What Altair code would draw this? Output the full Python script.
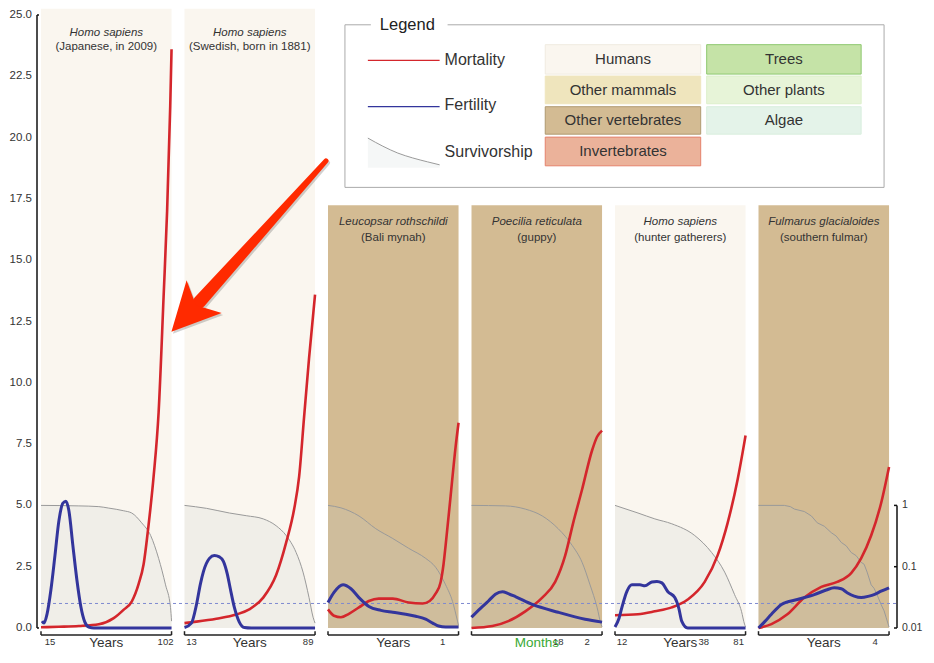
import math
import altair as alt
import pandas as pd

# ---------------- data ----------------
SPECIES = ["Homo sapiens", "Homo sapiens", "Leucopsar rothschildi",
           "Poecilia reticulata", "Homo sapiens", "Fulmarus glacialoides"]
POPULATION = ["(Japanese, in 2009)", "(Swedish, born in 1881)", "(Bali mynah)",
              "(guppy)", "(hunter gatherers)", "(southern fulmar)"]
GROUP = ["Humans", "Humans", "Other vertebrates", "Other vertebrates", "Humans", "Other vertebrates"]
AGE_UNIT = ["Years", "Years", "Years", "Months", "Years", "Years"]
AGE_TICKS = [["15", "102"], ["13", "89"], ["1"], ["18", "2"], ["12", "38", "81"], ["4"]]
AGE_TICK_AT = [[0.069, 0.954], [0.053, 0.947], [0.878], [0.664, 0.885], [0.053, 0.68, 0.947], [0.893]]

# Japanese 2009
JP_MORT_T = [0.0, 0.137, 0.29, 0.443, 0.557, 0.634, 0.695, 0.748, 0.786, 0.824, 0.863, 0.901, 0.939, 0.966, 0.99, 1.0]
JP_MORT = [0.03, 0.05, 0.08, 0.15, 0.4, 0.75, 1.08, 1.8, 2.6, 4.2, 6.2, 8.8, 13.5, 17.0, 21.3, 23.6]
JP_FERT_T = [0.008, 0.023, 0.046, 0.076, 0.107, 0.137, 0.168, 0.191, 0.214, 0.244, 0.275, 0.305, 0.336, 0.366, 0.405, 1.0]
JP_FERT = [0.28, 0.2, 0.56, 1.56, 2.96, 4.37, 5.09, 5.17, 4.77, 3.37, 1.96, 0.88, 0.24, 0.04, 0.0, 0.0]
JP_SURV_T = [0.0, 0.29, 0.443, 0.519, 0.634, 0.695, 0.771, 0.84, 0.901, 0.954, 0.992, 1.0]
JP_SURV = [5.0, 4.98, 4.95, 4.89, 4.78, 4.69, 4.29, 3.77, 2.84, 1.76, 0.84, 0.28]

# Swedish born 1881
SE_MORT_T = [0.0, 0.092, 0.244, 0.397, 0.496, 0.603, 0.702, 0.779, 0.84, 0.878, 0.916, 0.954, 1.0]
SE_MORT = [0.2, 0.26, 0.38, 0.55, 0.76, 1.24, 2.16, 3.49, 4.85, 6.17, 8.6, 11.0, 13.6]
SE_FERT_T = [0.0, 0.053, 0.092, 0.122, 0.145, 0.191, 0.229, 0.267, 0.298, 0.328, 0.351, 0.382, 0.42, 0.458, 0.511, 1.0]
SE_FERT = [0.02, 0.2, 0.96, 1.8, 2.3, 2.84, 2.96, 2.9, 2.72, 2.2, 1.6, 0.84, 0.24, 0.02, 0.0, 0.0]
SE_SURV_T = [0.0, 0.168, 0.344, 0.473, 0.603, 0.702, 0.779, 0.855, 0.908, 0.954, 0.985, 1.0]
SE_SURV = [5.0, 4.88, 4.69, 4.58, 4.45, 4.17, 3.77, 3.08, 2.28, 1.24, 0.44, 0.2]

# Bali mynah
BM_MORT_T = [0.0, 0.046, 0.099, 0.16, 0.237, 0.313, 0.389, 0.496, 0.618, 0.725, 0.779, 0.824, 0.863, 0.885, 0.901, 0.939, 0.977, 1.0]
BM_MORT = [0.76, 0.5, 0.44, 0.58, 0.84, 1.1, 1.2, 1.2, 1.04, 1.0, 1.1, 1.4, 1.88, 2.6, 3.37, 5.37, 7.37, 8.37]
BM_FERT_T = [0.0, 0.046, 0.115, 0.176, 0.237, 0.313, 0.405, 0.496, 0.595, 0.672, 0.748, 0.802, 0.847, 0.901, 1.0]
BM_FERT = [1.04, 1.45, 1.76, 1.6, 1.24, 0.88, 0.72, 0.64, 0.56, 0.48, 0.36, 0.2, 0.08, 0.04, 0.04]
BM_SURV_T = [0.0, 0.099, 0.237, 0.366, 0.496, 0.618, 0.748, 0.824, 0.901, 0.954, 0.992, 1.0]
BM_SURV = [5.0, 4.9, 4.57, 4.05, 3.65, 3.25, 2.84, 2.48, 1.76, 1.08, 0.28, 0.1]

# Guppy
GU_MORT_T = [0.0, 0.16, 0.282, 0.412, 0.542, 0.641, 0.718, 0.779, 0.847, 0.924, 0.962, 1.0]
GU_MORT = [0.0, 0.08, 0.28, 0.68, 1.24, 1.88, 2.96, 4.29, 5.65, 7.25, 7.8, 8.05]
GU_FERT_T = [0.0, 0.069, 0.13, 0.183, 0.237, 0.282, 0.336, 0.466, 0.664, 0.87, 1.0]
GU_FERT = [0.44, 0.8, 1.1, 1.38, 1.48, 1.4, 1.28, 0.96, 0.64, 0.36, 0.24]
GU_SURV_T = [0.0, 0.26, 0.412, 0.542, 0.664, 0.771, 0.847, 0.908, 0.962, 0.992, 1.0]
GU_SURV = [5.0, 4.98, 4.85, 4.57, 4.05, 3.37, 2.68, 1.76, 0.84, 0.16, 0.05]

# Hunter gatherers
HG_MORT_T = [0.0, 0.176, 0.305, 0.435, 0.557, 0.687, 0.786, 0.863, 0.939, 0.992, 1.0]
HG_MORT = [0.52, 0.56, 0.68, 0.84, 1.16, 1.88, 2.96, 4.29, 6.05, 7.6, 7.85]
HG_FERT_T = [0.0, 0.031, 0.053, 0.092, 0.13, 0.191, 0.229, 0.282, 0.321, 0.359, 0.405, 0.458, 0.489, 0.511, 0.557, 1.0]
HG_FERT = [0.04, 0.4, 0.84, 1.5, 1.76, 1.76, 1.72, 1.88, 1.9, 1.84, 1.48, 1.24, 0.8, 0.28, 0.0, 0.0]
HG_SURV_T = [0.0, 0.176, 0.305, 0.435, 0.611, 0.74, 0.84, 0.916, 0.969, 0.992, 1.0]
HG_SURV = [5.0, 4.69, 4.45, 4.25, 3.77, 3.08, 2.28, 1.36, 0.68, 0.16, 0.05]

# Southern fulmar
SF_MORT_T = [0.0, 0.099, 0.221, 0.351, 0.481, 0.603, 0.71, 0.786, 0.863, 0.939, 1.0]
SF_MORT = [0.0, 0.16, 0.56, 1.24, 1.68, 1.88, 2.24, 2.84, 3.77, 5.09, 6.57]
SF_FERT_T = [0.0, 0.046, 0.099, 0.176, 0.298, 0.427, 0.519, 0.58, 0.634, 0.679, 0.733, 0.786, 0.847, 0.885, 0.939, 1.0]
SF_FERT = [0.0, 0.25, 0.56, 0.96, 1.16, 1.36, 1.55, 1.64, 1.6, 1.44, 1.3, 1.24, 1.3, 1.36, 1.5, 1.64]
SF_SURV_T = [0.0, 0.198, 0.244, 0.275, 0.351, 0.405, 0.45, 0.504, 0.557, 0.595, 0.634, 0.672, 0.71, 0.748,
             0.786, 0.809, 0.832, 0.863, 0.885, 0.908, 0.939, 0.962, 0.977, 1.0]
SF_SURV = [5.0, 5.0, 4.95, 4.85, 4.75, 4.57, 4.29, 4.15, 3.89, 3.75, 3.49, 3.35, 3.08, 2.95,
           2.68, 2.6, 2.28, 1.76, 1.62, 1.36, 0.96, 0.7, 0.44, 0.04]

# right-hand survivorship axis (log scale 0.01 .. 1 drawn over 0 .. 5)
SURV_TICKS = [1, 0.1, 0.01]
SURV_TICK_LABELS = ["1", "0.1", "0.01"]
LEFT_TICKS = [0, 2.5, 5, 7.5, 10, 12.5, 15, 17.5, 20, 22.5, 25]

LEGEND_GROUPS = ["Humans", "Other mammals", "Other vertebrates", "Invertebrates",
                 "Trees", "Other plants", "Algae"]
LEGEND_LINES = ["Mortality", "Fertility", "Survivorship"]

# ---------------- styles / layout ----------------
GROUP_FILL = {"Humans": "#faf6ef", "Other mammals": "#efe5bd", "Other vertebrates": "#d3bb93",
              "Invertebrates": "#ebb29a", "Trees": "#c5e3a7", "Other plants": "#e7f4d8", "Algae": "#e4f3e9"}
GROUP_STROKE = {"Humans": "#f0ebe0", "Other mammals": "#efe5bd", "Other vertebrates": "#b09a70",
                "Invertebrates": "#e4826c", "Trees": "#8ec86f", "Other plants": "#dcefcb", "Algae": "#d9eede"}
MORT_C = "#d4262c"
FERT_C = "#33359c"
SURV_C = "#9a9a9a"
SURV_FILL = "#bec8c8"
FONT = "Liberation Sans"

PW = 131 / 144              # panel width (panel pitch = 1)
TOP = [25.25, 25.25, 17.24, 17.24, 17.24, 17.24]
AX_Y, AX_TICK, LAB_Y = -0.285, -0.13, -0.59
PXV = 24.52                 # pixels per value unit (for small offsets)
PXU = 143.5                 # pixels per panel pitch

W, H = 918, 641
XS = alt.Scale(domain=[-33 / PXU, 885 / PXU], nice=False, zero=False)
YS = alt.Scale(domain=[-0.8564, 25.2855], nice=False, zero=False)


def ux(px):
    """layout helper: reference-pixel column -> panel units"""
    return (px - 42) / 144


def X(f="u"):
    return alt.X(f"{f}:Q", scale=XS, axis=None)


def Y(f="v"):
    return alt.Y(f"{f}:Q", scale=YS, axis=None)


def curve(series):
    rows = []
    for p, (ts, vs) in enumerate(series):
        for t, v in zip(ts, vs):
            rows.append({"panel": p, "u": p + t * PW, "v": v})
    return pd.DataFrame(rows)


mort = curve([(JP_MORT_T, JP_MORT), (SE_MORT_T, SE_MORT), (BM_MORT_T, BM_MORT),
              (GU_MORT_T, GU_MORT), (HG_MORT_T, HG_MORT), (SF_MORT_T, SF_MORT)])
fert = curve([(JP_FERT_T, JP_FERT), (SE_FERT_T, SE_FERT), (BM_FERT_T, BM_FERT),
              (GU_FERT_T, GU_FERT), (HG_FERT_T, HG_FERT), (SF_FERT_T, SF_FERT)])
surv_all = curve([(JP_SURV_T, JP_SURV), (SE_SURV_T, SE_SURV), (BM_SURV_T, BM_SURV),
                  (GU_SURV_T, GU_SURV), (HG_SURV_T, HG_SURV), (SF_SURV_T, SF_SURV)])
surv_smooth = surv_all[surv_all.panel < 5]
surv_step = surv_all[surv_all.panel == 5]

layers = []

# panel backgrounds
bg = pd.DataFrame({"u": [p for p in range(6)], "u2": [p + PW for p in range(6)],
                   "v": [0.0] * 6, "v2": TOP, "fill": [GROUP_FILL[g] for g in GROUP]})
layers.append(alt.Chart(bg).mark_rect().encode(
    x=X(), x2="u2:Q", y=Y(), y2="v2:Q", color=alt.Color("fill:N", scale=None)))

# survivorship (area + line)
for d, interp in [(surv_smooth, "monotone"), (surv_step, "linear")]:
    layers.append(alt.Chart(d).mark_area(interpolate=interp, color=SURV_FILL, opacity=0.17).encode(
        x=X(), y=Y(), y2=alt.datum(0), detail="panel:N"))
    layers.append(alt.Chart(d).mark_line(interpolate=interp, color=SURV_C, strokeWidth=1).encode(
        x=X(), y=Y(), detail="panel:N"))

# dashed reference line
dash = pd.DataFrame({"u": [0.0], "u2": [ux(900)], "v": [1.0]})
layers.append(alt.Chart(dash).mark_rule(color="#7f8ad0", strokeWidth=1, strokeDash=[3, 3]).encode(
    x=X(), x2="u2:Q", y=Y()))

# mortality and fertility
layers.append(alt.Chart(mort).mark_line(interpolate="monotone", color=MORT_C, strokeWidth=2.6).encode(
    x=X(), y=Y(), detail="panel:N"))
layers.append(alt.Chart(fert).mark_line(interpolate="monotone", color=FERT_C, strokeWidth=3).encode(
    x=X(), y=Y(), detail="panel:N"))

# panel titles
t1 = pd.DataFrame({"u": [p + PW / 2 for p in range(6)],
                   "v": [TOP[p] - (1.0 if TOP[p] > 20 else 0.68) for p in range(6)],
                   "txt": SPECIES})
t2 = pd.DataFrame({"u": [p + PW / 2 for p in range(6)],
                   "v": [TOP[p] - (1.57 if TOP[p] > 20 else 1.32) for p in range(6)],
                   "txt": POPULATION})
layers.append(alt.Chart(t1).mark_text(font=FONT, fontSize=11.5, fontStyle="italic", color="#333",
                                      baseline="middle").encode(x=X(), y=Y(), text="txt:N"))
layers.append(alt.Chart(t2).mark_text(font=FONT, fontSize=11.5, color="#333",
                                      baseline="middle").encode(x=X(), y=Y(), text="txt:N"))

# bottom age axes (brackets)
br = pd.DataFrame({"u": [p for p in range(6)], "u2": [p + PW for p in range(6)], "v": [AX_Y] * 6})
layers.append(alt.Chart(br).mark_rule(color="#222", strokeWidth=1.5).encode(x=X(), x2="u2:Q", y=Y()))
ends = pd.DataFrame({"u": [p + e * PW for p in range(6) for e in (0, 1)]})
ends["v"], ends["v2"] = AX_Y, AX_TICK
layers.append(alt.Chart(ends).mark_rule(color="#222", strokeWidth=1.5).encode(x=X(), y=Y(), y2="v2:Q"))
tl = pd.DataFrame([{"u": p + a * PW, "v": LAB_Y, "txt": s}
                   for p in range(6) for s, a in zip(AGE_TICKS[p], AGE_TICK_AT[p])])
layers.append(alt.Chart(tl).mark_text(font=FONT, fontSize=9.5, color="#333", baseline="middle").encode(
    x=X(), y=Y(), text="txt:N"))
ut = pd.DataFrame({"u": [p + PW / 2 for p in range(6)], "v": [LAB_Y - 0.02] * 6, "txt": AGE_UNIT,
                   "c": ["#3aa935" if a == "Months" else "#333" for a in AGE_UNIT]})
layers.append(alt.Chart(ut).mark_text(font=FONT, fontSize=13.5, baseline="middle").encode(
    x=X(), y=Y(), text="txt:N", color=alt.Color("c:N", scale=None)))

# left axis: bracket + labels
lx, lx2 = -4 / PXU, -2 / PXU
la = pd.DataFrame({"u": [lx], "v": [0.0], "v2": [25.0]})
layers.append(alt.Chart(la).mark_rule(color="#111", strokeWidth=1.5).encode(x=X(), y=Y(), y2="v2:Q"))
ls = pd.DataFrame({"u": [lx, lx], "u2": [lx2, lx2], "v": [0.0, 25.0]})
layers.append(alt.Chart(ls).mark_rule(color="#111", strokeWidth=1.5).encode(x=X(), x2="u2:Q", y=Y()))
lab = pd.DataFrame({"v": LEFT_TICKS, "u": [-9 / PXU] * len(LEFT_TICKS),
                    "txt": [f"{t:.1f}" for t in LEFT_TICKS]})
layers.append(alt.Chart(lab).mark_text(font=FONT, fontSize=11.5, color="#333", align="right",
                                       baseline="middle").encode(x=X(), y=Y(), text="txt:N"))

# right survivorship axis (log)
rx, rx2, rxl = 856 / PXU, 853 / PXU, 861 / PXU
ra = pd.DataFrame({"u": [rx], "v": [0.0], "v2": [5.0]})
layers.append(alt.Chart(ra).mark_rule(color="#111", strokeWidth=1.5).encode(x=X(), y=Y(), y2="v2:Q"))
rt = pd.DataFrame({"p": SURV_TICKS, "txt": SURV_TICK_LABELS})
base_rt = alt.Chart(rt).transform_calculate(
    v="5 * (log(datum.p) / LN10 + 2) / 2", u=str(rx), u2=str(rx2), ul=str(rxl))
layers.append(base_rt.mark_rule(color="#111", strokeWidth=1.5).encode(x=X(), x2="u2:Q", y=Y()))
layers.append(base_rt.mark_text(font=FONT, fontSize=10.5, color="#333", align="left", baseline="middle").encode(
    x=X("ul"), y=Y(), text="txt:N"))

# ---------------- legend ----------------
gx0, gx1 = ux(373), ux(450)
LX0, LX1 = ux(347), ux(888)
LY0, LY1 = 17.97, 24.6
frame_h = pd.DataFrame({"u": [LX0, gx1, LX0], "u2": [gx0, LX1, LX1], "v": [LY1, LY1, LY0]})
layers.append(alt.Chart(frame_h).mark_rule(color="#aaa", strokeWidth=1).encode(x=X(), x2="u2:Q", y=Y()))
frame_v = pd.DataFrame({"u": [LX0, LX1], "v": [LY0, LY0], "v2": [LY1, LY1]})
layers.append(alt.Chart(frame_v).mark_rule(color="#aaa", strokeWidth=1).encode(x=X(), y=Y(), y2="v2:Q"))
lt = pd.DataFrame({"u": [ux(382)], "v": [LY1], "txt": ["Legend"]})
layers.append(alt.Chart(lt).mark_text(font=FONT, fontSize=16.5, color="#222", align="left",
                                      baseline="middle").encode(x=X(), y=Y(), text="txt:N"))

sx0, sx1 = ux(370), ux(442)
samp = pd.DataFrame({"u": [sx0, sx0], "u2": [sx1, sx1], "v": [23.15, 21.26], "c": [MORT_C, FERT_C]})
layers.append(alt.Chart(samp).mark_rule(strokeWidth=1.3).encode(
    x=X(), x2="u2:Q", y=Y(), color=alt.Color("c:N", scale=None)))
sv = pd.DataFrame({"u": [ux(x) for x in (370, 385, 400, 415, 430, 442)],
                   "v": [19.98, 19.65, 19.37, 19.17, 19.01, 18.89]})
layers.append(alt.Chart(sv).mark_area(interpolate="monotone", color=SURV_FILL, opacity=0.15).encode(
    x=X(), y=Y(), y2=alt.datum(18.77)))
layers.append(alt.Chart(sv).mark_line(interpolate="monotone", color=SURV_C, strokeWidth=1).encode(x=X(), y=Y()))
ll = pd.DataFrame({"u": [ux(447)] * 3, "v": [23.17, 21.34, 19.41], "txt": LEGEND_LINES})
layers.append(alt.Chart(ll).mark_text(font=FONT, fontSize=16, color="#333", align="left",
                                      baseline="middle").encode(x=X(), y=Y(), text="txt:N"))

cols = [(ux(548), ux(704)), (ux(710), ux(865))]
rows = [(23.79, 22.59), (22.51, 21.38), (21.26, 20.14), (20.02, 18.85)]
slots = [(0, 0), (0, 1), (0, 2), (0, 3), (1, 0), (1, 1), (1, 2)]
boxes = pd.DataFrame([{"u": cols[c][0], "u2": cols[c][1], "v": rows[r][1], "v2": rows[r][0],
                       "um": (cols[c][0] + cols[c][1]) / 2, "vm": (rows[r][0] + rows[r][1]) / 2,
                       "txt": g, "fill": GROUP_FILL[g], "stroke": GROUP_STROKE[g]}
                      for g, (c, r) in zip(LEGEND_GROUPS, slots)])
layers.append(alt.Chart(boxes).mark_rect(strokeWidth=1).encode(
    x=X(), x2="u2:Q", y=Y(), y2="v2:Q", color=alt.Color("fill:N", scale=None),
    stroke=alt.Stroke("stroke:N", scale=None)))
layers.append(alt.Chart(boxes).mark_text(font=FONT, fontSize=15, color="#333", baseline="middle").encode(
    x=X("um"), y=Y("vm"), text="txt:N"))

# ---------------- arrow ----------------
ARROW_C = "#ff2a00"
HEAD_PATH = "M0,-1L1,1L0,0.5L-1,1Z"
for dx, dv, col, op in [(1.5 / PXU, -2 / PXV, "#000", 0.18), (0, 0, ARROW_C, 1.0)]:
    shaft = pd.DataFrame({"u": [ux(328) + dx, ux(201) + dx],
                          "v": [19.05 + dv, 13.3 + dv], "w": [5, 13], "o": [0, 1]})
    layers.append(alt.Chart(shaft).mark_trail(color=col, opacity=op).encode(
        x=X(), y=Y(), size=alt.Size("w:Q", scale=None, legend=None), order="o:Q"))
    head = pd.DataFrame({"u": [ux(189.3) + dx], "v": [12.8 + dv]})
    layers.append(alt.Chart(head).mark_point(shape=HEAD_PATH, filled=True, size=2304, angle=223,
                                             color=col, opacity=op, strokeWidth=0).encode(x=X(), y=Y()))

chart = alt.layer(*layers).properties(
    width=W, height=H, padding=0, autosize=alt.AutoSizeParams(type="none")
).configure_view(stroke=None)

chart.save("out.html", embed_options={"renderer": "svg", "actions": False})
